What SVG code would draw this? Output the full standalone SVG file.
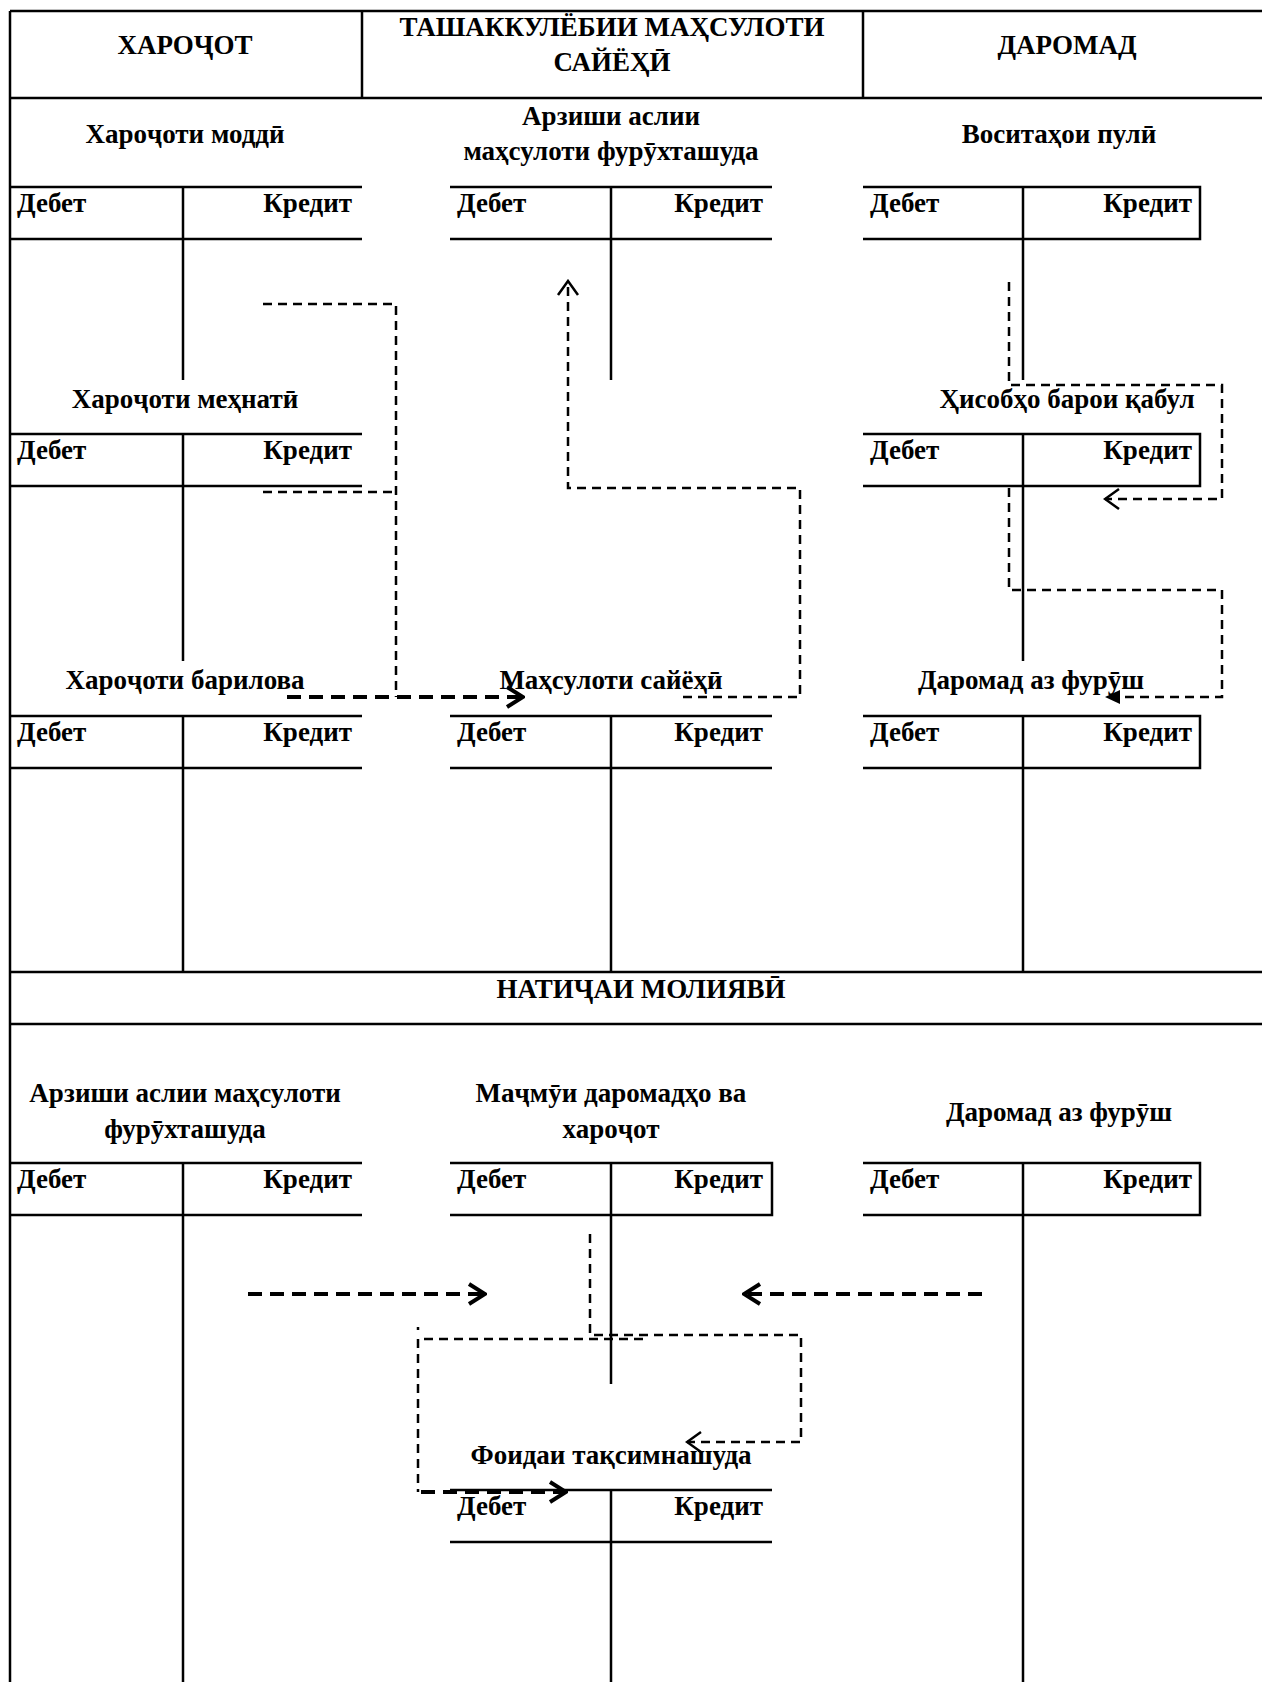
<svg xmlns="http://www.w3.org/2000/svg" width="1262" height="1682" viewBox="0 0 1262 1682">
<style>
.ln{stroke:#000;stroke-width:2.5;fill:none}
.t{font-family:"Liberation Serif","Times New Roman",serif;font-weight:bold;font-size:27px;fill:#000}
.c{text-anchor:middle}
.r{text-anchor:end}
.dt{stroke:#000;stroke-width:2.5;fill:none;stroke-dasharray:9 6}
.dk{stroke:#000;stroke-width:4;fill:none;stroke-dasharray:14 8}
</style>
<defs>
<marker id="chevK" viewBox="0 0 20 24" refX="18" refY="12" markerWidth="20" markerHeight="24" markerUnits="userSpaceOnUse" orient="auto"><path d="M2,2 L18,12 L2,22" fill="none" stroke="#000" stroke-width="4"/></marker>
<marker id="chevT" viewBox="0 0 18 24" refX="16" refY="12" markerWidth="18" markerHeight="24" markerUnits="userSpaceOnUse" orient="auto"><path d="M2,2 L16,12 L2,22" fill="none" stroke="#000" stroke-width="2.5"/></marker>
<marker id="tri" viewBox="0 0 15 14" refX="15" refY="7" markerWidth="15" markerHeight="14" markerUnits="userSpaceOnUse" orient="auto"><path d="M0,0 L15,7 L0,14 Z" fill="#000"/></marker>
</defs>
<rect x="0" y="0" width="1262" height="1682" fill="#fff"/>
<g id="frame">
<path class="ln" d="M10,11 H1262 M10,98 H1262 M10,972 H1262 M10,1024 H1262 M10,11 V1682 M362,11 V98 M863,11 V98"/>
<text class="t c" x="185" y="54">ХАРОҶОТ</text>
<text class="t c" x="612" y="36">ТАШАККУЛЁБИИ МАҲСУЛОТИ</text>
<text class="t c" x="612" y="71">САЙЁҲӢ</text>
<text class="t c" x="1067" y="54">ДАРОМАД</text>
<text class="t c" x="641" y="998">НАТИҶАИ МОЛИЯВӢ</text>
</g>
<g id="acc-material">
<text class="t c" x="185" y="143">Хароҷоти моддӣ</text>
<path class="ln" d="M10,187 H362 M10,239 H362 M183,187 V380"/>
<text class="t" x="17" y="212">Дебет</text><text class="t r" x="352" y="212">Кредит</text>
</g>
<g id="acc-cost-sold">
<text class="t c" x="611" y="125">Арзиши аслии</text>
<text class="t c" x="611" y="160">маҳсулоти фурӯхташуда</text>
<path class="ln" d="M450,187 H772 M450,239 H772 M611,187 V380"/>
<text class="t" x="457" y="212">Дебет</text><text class="t r" x="763" y="212">Кредит</text>
</g>
<g id="acc-cash">
<text class="t c" x="1059" y="143">Воситаҳои пулӣ</text>
<path class="ln" d="M863,187 H1200 V239 H863 M1023,187 V380"/>
<text class="t" x="870" y="212">Дебет</text><text class="t r" x="1192" y="212">Кредит</text>
</g>
<g id="acc-labour">
<text class="t c" x="185" y="408">Хароҷоти меҳнатӣ</text>
<path class="ln" d="M10,434 H362 M10,486 H362 M183,434 V661"/>
<text class="t" x="17" y="459">Дебет</text><text class="t r" x="352" y="459">Кредит</text>
</g>
<g id="acc-receivable">
<text class="t c" x="1067" y="408">Ҳисобҳо барои қабул</text>
<path class="ln" d="M863,434 H1200 V486 H863 M1023,434 V661"/>
<text class="t" x="870" y="459">Дебет</text><text class="t r" x="1192" y="459">Кредит</text>
</g>
<g id="acc-overhead">
<text class="t c" x="185" y="689">Хароҷоти барилова</text>
<path class="ln" d="M10,716 H362 M10,768 H362 M183,716 V972"/>
<text class="t" x="17" y="741">Дебет</text><text class="t r" x="352" y="741">Кредит</text>
</g>
<g id="acc-tourist-product">
<text class="t c" x="611" y="689">Маҳсулоти сайёҳӣ</text>
<path class="ln" d="M450,716 H772 M450,768 H772 M611,716 V972"/>
<text class="t" x="457" y="741">Дебет</text><text class="t r" x="763" y="741">Кредит</text>
</g>
<g id="acc-sales">
<text class="t c" x="1031" y="689">Даромад аз фурӯш</text>
<path class="ln" d="M863,716 H1200 V768 H863 M1023,716 V972"/>
<text class="t" x="870" y="741">Дебет</text><text class="t r" x="1192" y="741">Кредит</text>
</g>
<g id="acc-cost-sold-2">
<text class="t c" x="185" y="1102">Арзиши аслии маҳсулоти</text>
<text class="t c" x="185" y="1138">фурӯхташуда</text>
<path class="ln" d="M10,1163 H362 M10,1215 H362 M183,1163 V1682"/>
<text class="t" x="17" y="1188">Дебет</text><text class="t r" x="352" y="1188">Кредит</text>
</g>
<g id="acc-summary">
<text class="t c" x="611" y="1102">Маҷмӯи даромадҳо ва</text>
<text class="t c" x="611" y="1138">хароҷот</text>
<path class="ln" d="M450,1163 H772 V1215 H450 M611,1163 V1384"/>
<text class="t" x="457" y="1188">Дебет</text><text class="t r" x="763" y="1188">Кредит</text>
</g>
<g id="acc-sales-2">
<text class="t c" x="1059" y="1121">Даромад аз фурӯш</text>
<path class="ln" d="M863,1163 H1200 V1215 H863 M1023,1163 V1682"/>
<text class="t" x="870" y="1188">Дебет</text><text class="t r" x="1192" y="1188">Кредит</text>
</g>
<g id="acc-retained">
<text class="t c" x="611" y="1464">Фоидаи тақсимнашуда</text>
<path class="ln" d="M450,1490 H772 M450,1542 H772 M611,1490 V1682"/>
<text class="t" x="457" y="1515">Дебет</text><text class="t r" x="763" y="1515">Кредит</text>
</g>
<g id="connectors">
<polyline class="dt" points="263,304 396,304 396,697"/>
<polyline class="dt" points="263,492 396,492"/>
<polyline class="dk" points="287,697 523,697" marker-end="url(#chevK)"/>
<polyline class="dt" points="683,697 800,697 800,488 568,488 568,281" marker-end="url(#chevT)"/>
<polyline class="dt" points="1009,282 1009,385 1222,385 1222,499 1105,499" marker-end="url(#chevT)"/>
<polyline class="dt" points="1009,488 1009,590 1222,590 1222,697 1105,697" marker-end="url(#tri)"/>
<polyline class="dk" points="248,1294 485,1294" marker-end="url(#chevK)"/>
<polyline class="dk" points="982,1294 744,1294" marker-end="url(#chevK)"/>
<polyline class="dt" points="590,1234 590,1335 801,1335 801,1442 687,1442" marker-end="url(#chevT)"/>
<polyline class="dt" points="418,1327 418,1330"/>
<polyline class="dt" points="643,1339 418,1339 418,1492"/>
<polyline class="dk" points="421,1492 566,1492" marker-end="url(#chevK)"/>
</g>
</svg>
